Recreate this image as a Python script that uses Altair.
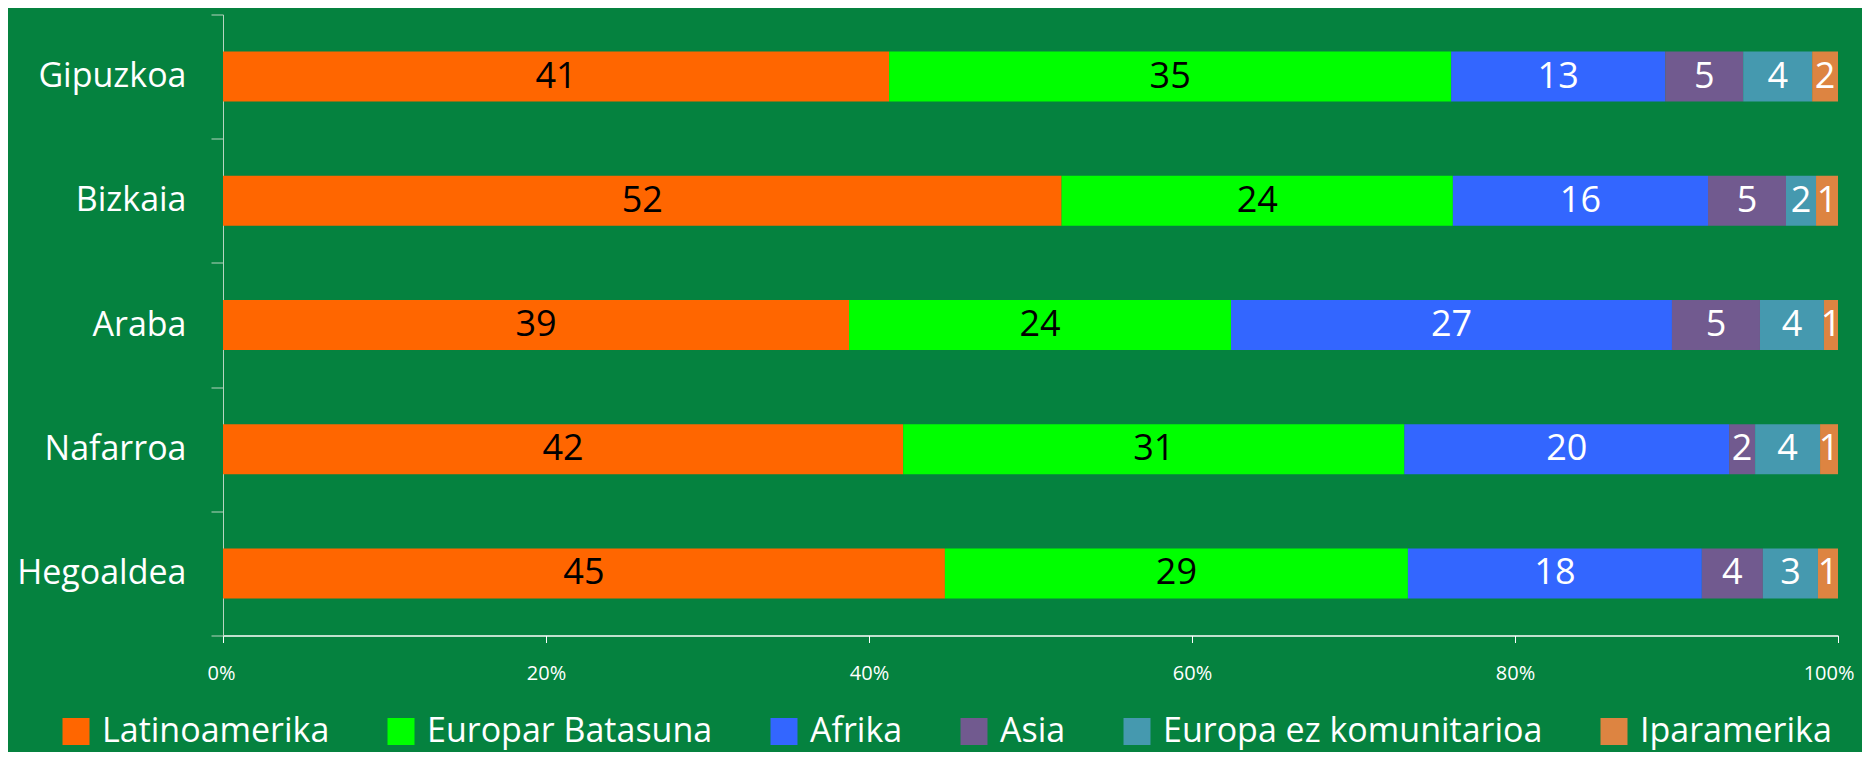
import altair as alt
import pandas as pd

regions = ["Gipuzkoa", "Bizkaia", "Araba", "Nafarroa", "Hegoaldea"]
origins = ["Latinoamerika", "Europar Batasuna", "Afrika", "Asia",
           "Europa ez komunitarioa", "Iparamerika"]
colors = ["#FF6600", "#00FF00", "#3366FF", "#715A8F", "#4599AF", "#DD8441"]
text_colors = ["#000000", "#000000", "#FFFFFF", "#FFFFFF", "#FFFFFF", "#FFFFFF"]

latinoamerika = [41.24, 51.93, 38.76, 42.10, 44.70]
europar_batasuna = [34.80, 24.23, 23.65, 31.02, 28.67]
afrika = [13.25, 15.80, 27.30, 20.10, 18.20]
asia = [4.83, 4.83, 5.45, 1.61, 3.78]
europa_ez = [4.27, 1.86, 3.96, 4.02, 3.41]
iparamerika = [1.60, 1.36, 0.87, 1.11, 1.24]

series = [latinoamerika, europar_batasuna, afrika, asia, europa_ez, iparamerika]

rows = []
for i, (name, vals) in enumerate(zip(origins, series)):
    for r, v in zip(regions, vals):
        rows.append({"region": r, "origin": name, "value": v, "idx": i,
                     "tcol": text_colors[i]})
df = pd.DataFrame(rows)

FONT = "Open Sans"
BG = "#05823F"

y_enc = alt.Y("region:N", sort=regions, title=None,
              scale=alt.Scale(paddingInner=0, paddingOuter=0),
              axis=alt.Axis(tickBand="extent", labelFont=FONT, labelFontSize=34,
                            labelColor="white", labelPadding=25, tickSize=12,
                            tickColor="#B8D4C0", domainColor="#B8D4C0",
                            domainWidth=1, tickWidth=1))

bars = alt.Chart(df).mark_bar(size=50).encode(
    x=alt.X("value:Q", stack="normalize", title=None,
            scale=alt.Scale(domain=[0, 1], nice=False),
            axis=alt.Axis(format=".0%", values=[0, 0.2, 0.4, 0.6, 0.8, 1.0],
                          grid=False, labelFont=FONT, labelFontSize=20,
                          labelColor="white", labelPadding=21, tickSize=7,
                          tickColor="white", domainColor="white",
                          domainWidth=1.5, labelFlush=True, labelFlushOffset=16)),
    y=y_enc,
    color=alt.Color("origin:N", sort=origins,
                    scale=alt.Scale(domain=origins, range=colors),
                    legend=alt.Legend(title=None, orient="none", direction="horizontal",
                                      legendX=-164, legendY=700,
                                      symbolType="square", symbolSize=729,
                                      symbolStrokeWidth=0, symbolOpacity=1,
                                      labelFont=FONT, labelFontSize=34,
                                      labelColor="white", labelOffset=9,
                                      columnPadding=54, labelLimit=0)),
    order=alt.Order("idx:Q", sort="ascending"),
)

labels = alt.Chart(df).transform_stack(
    stack="value", groupby=["region"], as_=["x0", "x1"], offset="normalize",
    sort=[alt.SortField("idx", order="ascending")]
).transform_calculate(
    mid="(datum.x0 + datum.x1) / 2"
).mark_text(font=FONT, fontSize=36, baseline="middle", align="center").encode(
    x=alt.X("mid:Q"),
    y=alt.Y("region:N", sort=regions),
    text=alt.Text("value:Q", format=".0f"),
    color=alt.Color("tcol:N", scale=None),
)

chart = alt.layer(bars, labels).resolve_scale(color="independent").properties(
    width=1615, height=621,
    background=BG,
    padding={"left": 215, "top": 6.5, "right": 24, "bottom": 116.5},
    autosize=alt.AutoSizeParams(type="none"),
).configure_view(stroke=None)

chart.save("out.html", embed_options={"renderer": "svg", "actions": False})
